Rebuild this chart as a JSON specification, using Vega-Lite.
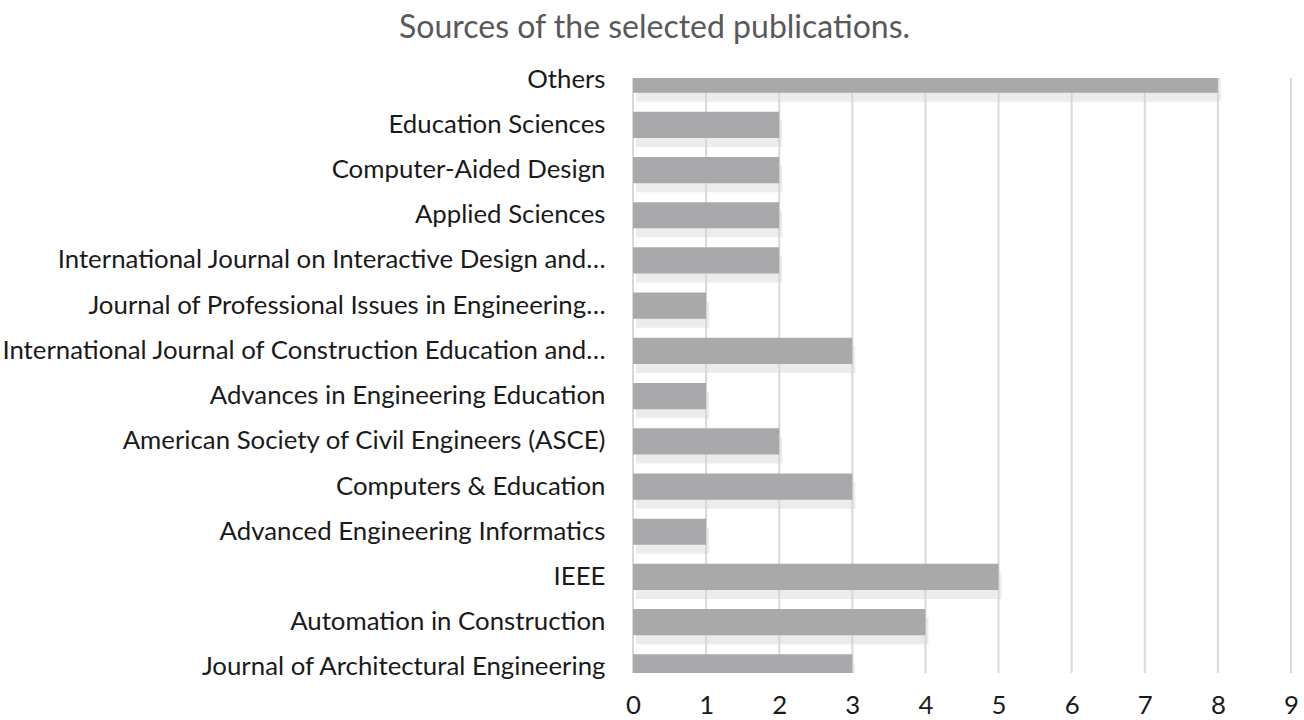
{
  "$schema": "https://vega.github.io/schema/vega-lite/v6.json",
  "autosize": {"type": "pad"},
  "padding": {"left": 0, "top": 12, "right": 13, "bottom": 5},
  "background": "white",
  "title": {
    "text": "Sources of the selected publications.",
    "font": "Lato",
    "fontSize": 32,
    "fontWeight": "normal",
    "color": "#595959",
    "anchor": "middle",
    "dx": 5,
    "offset": 21
  },
  "config": {
    "view": {"stroke": null},
    "concat": {"spacing": 0},
    "axis": {"labelFont": "Lato", "labelFontSize": 25.8, "labelColor": "#1a1a1a"}
  },
  "vconcat": [
    {
      "width": 658,
      "height": 595,
      "data": {
        "values": [
          {"source": "Others", "count": 8},
          {"source": "Education Sciences", "count": 2},
          {"source": "Computer-Aided Design", "count": 2},
          {"source": "Applied Sciences ", "count": 2},
          {"source": "International Journal on Interactive Design and…", "count": 2},
          {"source": "Journal of Professional Issues in Engineering…", "count": 1},
          {"source": "International Journal of Construction Education and…", "count": 3},
          {"source": "Advances in Engineering Education", "count": 1},
          {"source": "American Society of Civil Engineers (ASCE)", "count": 2},
          {"source": "Computers & Education", "count": 3},
          {"source": "Advanced Engineering Informatics", "count": 1},
          {"source": "IEEE ", "count": 5},
          {"source": "Automation in Construction", "count": 4},
          {"source": "Journal of Architectural Engineering", "count": 3}
        ]
      },
      "encoding": {
        "y": {
          "field": "source",
          "type": "nominal",
          "sort": null,
          "scale": {"range": [-21, 612], "paddingInner": 0.42, "paddingOuter": 0.21},
          "axis": {
            "title": null,
            "ticks": false,
            "domain": false,
            "labelLimit": 0,
            "labelPadding": 28,
            "labelAlign": "right"
          }
        },
        "x": {
          "field": "count",
          "type": "quantitative",
          "scale": {"domain": [0, 9], "nice": false},
          "axis": {
            "title": null,
            "ticks": false,
            "domain": false,
            "values": [0, 1, 2, 3, 4, 5, 6, 7, 8, 9],
            "labelOverlap": false,
            "labelFlush": false,
            "grid": false,
            "labelPadding": 20
          }
        }
      },
      "layer": [
        {
          "data": {"values": [{"g": 0}, {"g": 1}, {"g": 2}, {"g": 3}, {"g": 4}, {"g": 5}, {"g": 6}, {"g": 7}, {"g": 8}, {"g": 9}]},
          "mark": {"type": "rule", "color": "#d9d9d9", "strokeWidth": 2},
          "encoding": {"x": {"field": "g", "type": "quantitative"}, "y": null}
        },
        {
          "mark": {"type": "bar", "clip": true, "color": "#d4d4d4", "opacity": 0.45, "yOffset": 9, "xOffset": 3}
        },
        {
          "mark": {"type": "bar", "clip": true, "color": "#a9a9ac"}
        }
      ]
    }
  ]
}
